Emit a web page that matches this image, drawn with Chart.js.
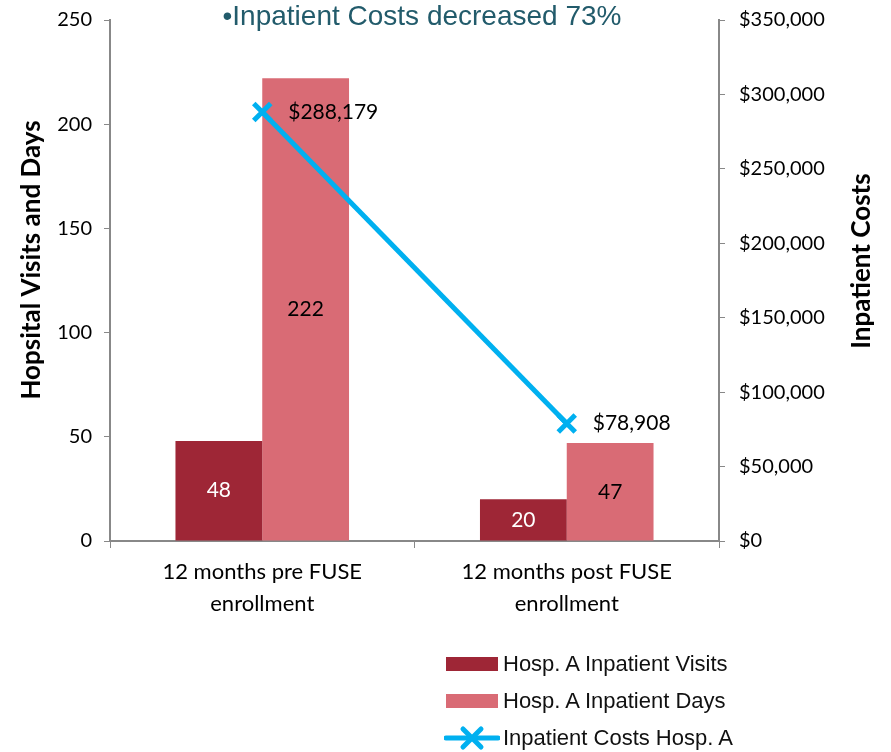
<!DOCTYPE html>
<html>
<head>
<meta charset="utf-8">
<script src="https://cdn.jsdelivr.net/npm/chart.js@4.4.1/dist/chart.umd.min.js"></script>
<style>
  html, body { margin: 0; padding: 0; background: #fff; }
  #wrap { position: relative; width: 891px; height: 752px; }
  #legend { position: absolute; left: 446px; top: 645px; font-family: "Liberation Sans", Arial, sans-serif; font-size: 22px; color: #111; }
  #legend div { height: 37px; display: flex; align-items: center; }
  #legend span.sw { display: inline-block; width: 52px; height: 14px; margin-right: 5px; }
  #legend canvas { margin-right: 3px; }
</style>
</head>
<body>
<div id="wrap">
  <canvas id="chart" width="891" height="752"></canvas>
  <div id="legend"></div>
</div>
<script>
const categories = [['12 months pre FUSE', 'enrollment'], ['12 months post FUSE', 'enrollment']];
const visits = [48, 20];
const days = [222, 47];
const costs = [288179, 78908];
const leftTicks = [0, 50, 100, 150, 200, 250];
const rightTicks = [0, 50000, 100000, 150000, 200000, 250000, 300000, 350000];

const visitsColor = '#9E2636';
const daysColor = '#D96B75';
const costColor = '#00B0F0';
const axisGray = '#888888';
const gill = 'Lato, "Open Sans", sans-serif';
const tickFont = { family: gill, size: 20 };

function money(v) {
    return '$' + v.toLocaleString('en-US');
}

const labelPlugin = {
    id: 'labels',
    afterDatasetsDraw(chart) {
        const ctx = chart.ctx;
        ctx.save();
        ctx.font = '21px ' + gill;
        ctx.textAlign = 'center';
        ctx.textBaseline = 'middle';
        [0, 1].forEach(function(di) {
            const meta = chart.getDatasetMeta(di);
            meta.data.forEach(function(bar, i) {
                ctx.fillStyle = di === 0 ? '#ffffff' : '#000000';
                ctx.fillText(chart.data.datasets[di].data[i], bar.x, (bar.y + bar.base) / 2);
            });
        });
        const lineMeta = chart.getDatasetMeta(2);
        ctx.textAlign = 'left';
        ctx.fillStyle = '#000000';
        lineMeta.data.forEach(function(pt, i) {
            ctx.fillText(money(costs[i]), pt.x + 26, pt.y);
        });

        // title
        ctx.font = '28px "Liberation Sans", Arial, sans-serif';
        ctx.fillStyle = '#225B6B';
        ctx.textAlign = 'center';
        ctx.textBaseline = 'alphabetic';
        ctx.fillText('\u2022Inpatient Costs decreased 73%', 422, 25);

        // axis titles, both read bottom to top
        ctx.font = 'bold 26px ' + gill;
        ctx.fillStyle = '#000000';
        ctx.textBaseline = 'middle';
        [[32, 260, 'Hopsital Visits and Days'], [862, 261, 'Inpatient Costs']].forEach(function(t) {
            ctx.save();
            ctx.translate(t[0], t[1]);
            ctx.rotate(-Math.PI / 2);
            ctx.fillText(t[2], 0, 0);
            ctx.restore();
        });
        ctx.restore();
    }
};

function fitY(width) {
    return function(s) {
        s.width = width;
        s.paddingTop = 0;
        s.paddingBottom = 0;
    };
}

const chart = new Chart(document.getElementById('chart').getContext('2d'), {
    type: 'bar',
    data: {
        labels: categories,
        datasets: [{
            label: 'Hosp. A Inpatient Visits',
            data: visits,
            backgroundColor: visitsColor,
            yAxisID: 'y',
            order: 1,
            categoryPercentage: 0.57,
            barPercentage: 1.0
        }, {
            label: 'Hosp. A Inpatient Days',
            data: days,
            backgroundColor: daysColor,
            yAxisID: 'y',
            order: 1,
            categoryPercentage: 0.57,
            barPercentage: 1.0
        }, {
            type: 'line',
            label: 'Inpatient Costs Hosp. A',
            data: costs,
            borderColor: costColor,
            backgroundColor: costColor,
            borderWidth: 5,
            pointStyle: 'crossRot',
            pointRadius: 12,
            pointBorderWidth: 5,
            yAxisID: 'y1',
            order: 0
        }]
    },
    options: {
        responsive: false,
        animation: false,
        layout: { padding: { top: 20, bottom: 131, left: 0, right: 0 } },
        plugins: {
            legend: { display: false },
            tooltip: { enabled: false }
        },
        scales: {
            x: {
                grid: { drawOnChartArea: false, color: axisGray, tickLength: 7, offset: true },
                border: { color: axisGray, width: 2 },
                ticks: { color: '#000', font: { family: gill, size: 22, lineHeight: 1.45 }, padding: 8, maxRotation: 0 },
                afterFit: function(s) { s.height = 80; }
            },
            y: {
                position: 'left',
                min: 0,
                max: 250,
                afterBuildTicks: function(s) { s.ticks = leftTicks.map(function(v) { return { value: v }; }); },
                grid: { drawOnChartArea: false, color: axisGray, tickLength: 6 },
                border: { color: axisGray, width: 2 },
                ticks: { color: '#000', font: tickFont, padding: 12 },
                afterFit: fitY(110)
            },
            y1: {
                position: 'right',
                min: 0,
                max: 350000,
                afterBuildTicks: function(s) { s.ticks = rightTicks.map(function(v) { return { value: v }; }); },
                grid: { drawOnChartArea: false, color: axisGray, tickLength: 6 },
                border: { color: axisGray, width: 2 },
                ticks: { color: '#000', font: tickFont, padding: 14, callback: function(v) { return money(v); } },
                afterFit: fitY(172)
            }
        }
    },
    plugins: [labelPlugin]
});

// legend
const legend = document.getElementById('legend');
chart.data.datasets.forEach(function(ds) {
    const row = document.createElement('div');
    if (ds.type === 'line') {
        const c = document.createElement('canvas');
        c.width = 56; c.height = 26;
        const g = c.getContext('2d');
        g.strokeStyle = ds.borderColor;
        g.lineWidth = 5;
        g.lineCap = 'round';
        g.beginPath(); g.moveTo(2, 13); g.lineTo(54, 13); g.stroke();
        g.beginPath();
        g.moveTo(19, 4); g.lineTo(37, 22);
        g.moveTo(37, 4); g.lineTo(19, 22);
        g.stroke();
        row.appendChild(c);
        row.style.marginLeft = '-2px';
    } else {
        const sw = document.createElement('span');
        sw.className = 'sw';
        sw.style.background = ds.backgroundColor;
        row.appendChild(sw);
    }
    row.appendChild(document.createTextNode(ds.label));
    legend.appendChild(row);
});
</script>
</body>
</html>
